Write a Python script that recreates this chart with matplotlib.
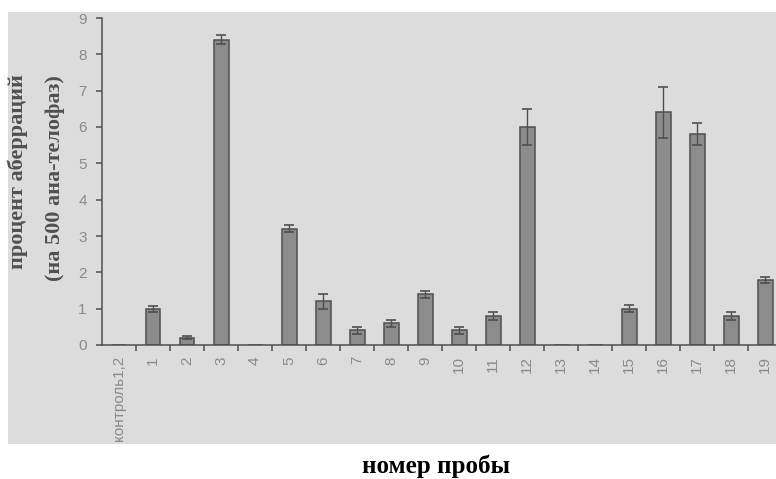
import matplotlib.pyplot as plt
from matplotlib.patches import Rectangle
import numpy as np

# samples along x, mean percent of aberrations and error
samples = ['контроль1,2', '1', '2', '3', '4', '5', '6', '7', '8', '9', '10',
           '11', '12', '13', '14', '15', '16', '17', '18', '19']
values = [0, 1.0, 0.2, 8.4, 0, 3.2, 1.2, 0.4, 0.6, 1.4, 0.4,
          0.8, 6.0, 0, 0, 1.0, 6.4, 5.8, 0.8, 1.8]
errors = [0, 0.08, 0.04, 0.12, 0, 0.1, 0.2, 0.1, 0.1, 0.1, 0.1,
          0.1, 0.5, 0, 0, 0.1, 0.7, 0.3, 0.1, 0.08]
yticks = list(range(0, 10))

panel = '#dcdcdc'
bar_face = '#8c8c8c'
dark = '#4f4f4f'
tick_col = '#8a8a8a'

fig = plt.figure(figsize=(7.76, 4.79), dpi=100)
fig.patches.append(Rectangle((8 / 776, 1 - 444 / 479), 768 / 776, 432 / 479,
                             transform=fig.transFigure, facecolor=panel,
                             edgecolor='none', zorder=-10))

ax = fig.add_axes([102 / 776, 134 / 479, 674 / 776, 327 / 479])
ax.set_facecolor('none')

x = np.arange(len(samples))
ax.bar(x, values, width=0.44, color=bar_face, edgecolor=dark, linewidth=1.1, zorder=2)
mask = np.array(values) > 0
ax.errorbar(x[mask], np.array(values)[mask], yerr=np.array(errors)[mask],
            fmt='none', ecolor=dark, elinewidth=1.0, capsize=3.5, capthick=1.2, zorder=3)

ax.set_xlim(-0.5, 19.32)
ax.set_ylim(0, 9)
ax.set_yticks(yticks)
ax.set_xticks(x)
ax.set_xticklabels(samples, rotation=90, va='top', ha='center')
ax.set_xticks(np.arange(0.5, 19.5, 1), minor=True)

for s in ['top', 'right']:
    ax.spines[s].set_visible(False)
for s in ['left', 'bottom']:
    ax.spines[s].set_color(dark)
    ax.spines[s].set_linewidth(1.1)

ax.tick_params(axis='x', which='major', length=0, pad=8, labelsize=11,
               labelcolor=tick_col)
ax.tick_params(axis='x', which='minor', length=4, width=1.1, color=dark, direction='out')
ax.tick_params(axis='y', length=4, width=1.1, color=dark, direction='out', pad=7,
               labelsize=11, labelcolor=tick_col)
for lab in ax.get_xticklabels() + ax.get_yticklabels():
    lab.set_fontfamily('Liberation Sans')

serif = 'Liberation Serif'
fig.text(18 / 776, 1 - 172 / 479, 'процент аберраций', rotation=90,
         ha='center', va='center', fontsize=16, fontweight='bold',
         family=serif, color='#505050')
fig.text(55 / 776, 1 - 178 / 479, '(на 500 ана-телофаз)', rotation=90,
         ha='center', va='center', fontsize=16, fontweight='bold',
         family=serif, color='#505050')
fig.text(436 / 776, 1 - 466 / 479, 'номер пробы', ha='center', va='center',
         fontsize=18, fontweight='bold', family=serif, color='black')

fig.savefig('out.png', dpi=100)
